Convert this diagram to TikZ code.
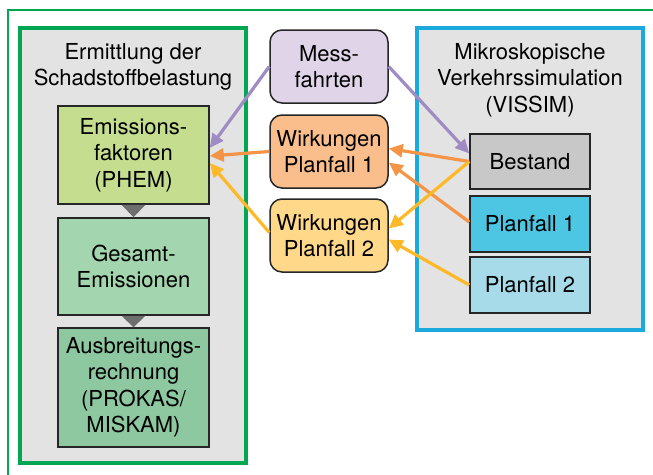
\documentclass[tikz,border=0pt]{standalone}
\usepackage{fontspec}
\setmainfont{TeX Gyre Heros}
\usetikzlibrary{arrows.meta, positioning}
\definecolor{RahmenGruen}{RGB}{0,166,81}
\definecolor{RahmenBlau}{RGB}{26,170,222}
\definecolor{HellGrau}{RGB}{227,227,227}
\definecolor{EmGruen}{RGB}{196,221,142}
\definecolor{GesGruen}{RGB}{163,213,174}
\definecolor{AusGruen}{RGB}{142,200,160}
\definecolor{MessLila}{RGB}{224,212,232}
\definecolor{WirkOrange}{RGB}{249,190,140}
\definecolor{WirkGelb}{RGB}{255,216,138}
\definecolor{BestGrau}{RGB}{200,200,200}
\definecolor{PlanCyan}{RGB}{76,198,226}
\definecolor{PlanHell}{RGB}{168,219,234}
\definecolor{PfeilLila}{RGB}{160,140,196}
\definecolor{PfeilOrange}{RGB}{243,148,71}
\definecolor{PfeilGelb}{RGB}{253,185,39}
\definecolor{DreieckGrau}{RGB}{110,110,110}

\begin{document}
\begin{tikzpicture}[x=1pt, y=-1pt, font=\fontsize{22}{26.5}\selectfont,
	kasten/.style={rectangle, draw=black!85, line width=1.5pt, align=center,
		inner sep=0pt, minimum width=151pt},
	rund/.style={kasten, rounded corners=12pt, minimum width=118pt, minimum height=73pt},
	simkasten/.style={kasten, minimum width=120pt, minimum height=56pt},
	rahmen/.style={line width=3.8pt, fill=HellGrau},
	pfeil/.style={-{Triangle[length=14pt,width=13pt]}, line width=3.2pt}]
	\useasboundingbox (0,0) rectangle (653,474);
	\fill[white] (0,0) rectangle (653,474);
	\clip (0,0) rectangle (653,474);
	\draw[RahmenGruen, line width=2.2pt] (8,10) rectangle (690,520);
	% Schadstoffbelastung
	\draw[rahmen, draw=RahmenGruen] (20,28) rectangle (246,463);
	\node[align=center] (linkstitel) at (133,67) {Ermittlung der\\Schadstoffbelastung};
	\node[kasten, fill=EmGruen, minimum height=98pt] (emfak) at (133.5,155) {Emissions-\\faktoren\\(PHEM)};
	\node[kasten, fill=GesGruen, minimum height=97pt] (gesamt) at (133.5,266.5) {Gesamt-\\Emissionen};
	\node[kasten, fill=AusGruen, minimum height=119pt] (ausbr) at (133.5,387.5) {Ausbreitungs-\\rechnung\\(PROKAS/\\MISKAM)};
	\fill[DreieckGrau] ([xshift=-12pt]emfak.south) -- ([xshift=12pt]emfak.south) -- (gesamt.north) -- cycle;
	\fill[DreieckGrau] ([xshift=-12pt]gesamt.south) -- ([xshift=12pt]gesamt.south) -- (ausbr.north) -- cycle;
	% Mitte
	\node[rund, fill=MessLila] (mess) at (329,66.5) {Mess-\\fahrten};
	\node[rund, fill=WirkOrange] (wirk1) at (329,151.5) {Wirkungen\\Planfall 1};
	\node[rund, fill=WirkGelb] (wirk2) at (329,235.5) {Wirkungen\\Planfall 2};
	% Verkehrssimulation
	\draw[rahmen, draw=RahmenBlau] (417,28) rectangle (643,330);
	\node[align=center] (rechtstitel) at (530,80) {Mikroskopische\\Verkehrssimulation\\(VISSIM)};
	\node[simkasten, fill=BestGrau, minimum height=55pt] (bestand) at (530,161.5) {Bestand};
	\node[simkasten, fill=PlanCyan] (plan1) at (530,224) {Planfall 1};
	\node[simkasten, fill=PlanHell] (plan2) at (530,285) {Planfall 2};
	% Pfeile
	\draw[pfeil, PfeilLila] (mess.west) -- ([yshift=7pt]emfak.east);
	\draw[pfeil, PfeilOrange] (wirk1.west) -- ([yshift=-1pt]emfak.east);
	\draw[pfeil, PfeilGelb] ([yshift=3pt]wirk2.west) -- ([yshift=-8pt]emfak.east);
	\draw[pfeil, PfeilLila] (mess.east) -- ([yshift=8pt]bestand.west);
	\draw[pfeil, PfeilOrange] (bestand.west) -- ([yshift=3pt]wirk1.east);
	\draw[pfeil, PfeilOrange] ([yshift=2pt]plan1.west) -- ([yshift=-11pt]wirk1.east);
	\draw[pfeil, PfeilGelb] (bestand.west) -- ([yshift=7pt]wirk2.east);
	\draw[pfeil, PfeilGelb] (plan2.west) -- ([yshift=-4pt]wirk2.east);
\end{tikzpicture}
\end{document}
